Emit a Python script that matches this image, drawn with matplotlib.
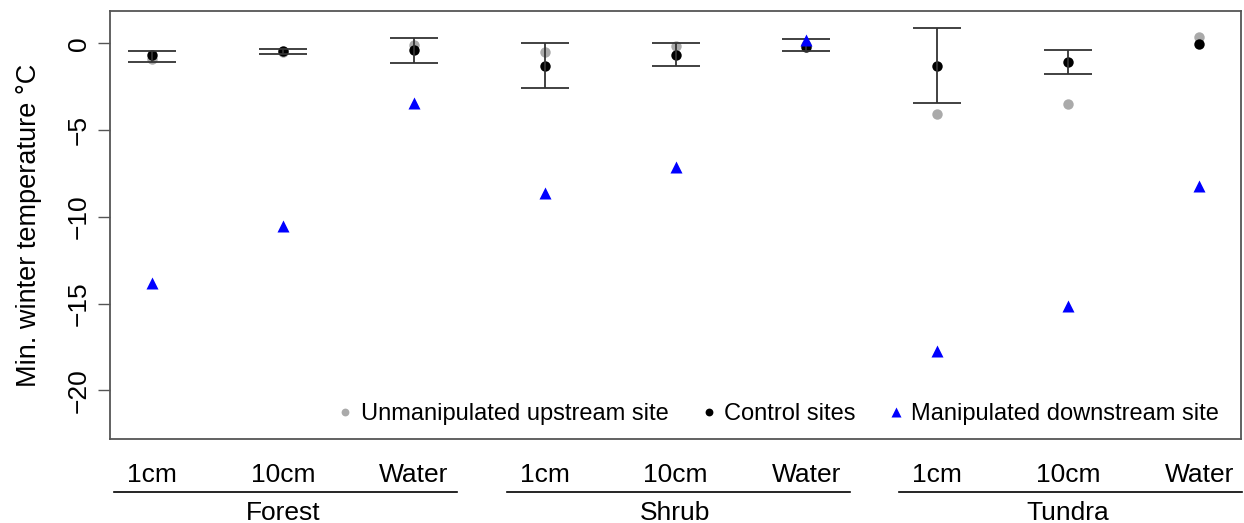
import numpy as np
import matplotlib
matplotlib.use("Agg")
import matplotlib.pyplot as plt

plt.rcParams["font.family"] = ["Liberation Sans", "DejaVu Sans"]

# ---- data ----
groups = ["Forest", "Shrub", "Tundra"]
depths = ["1cm", "10cm", "Water"]

upstream = [-0.87, -0.52, -0.10, -0.52, -0.14, -0.10, -4.04, -3.50, 0.38]
control = [-0.68, -0.43, -0.39, -1.29, -0.64, -0.20, -1.29, -1.06, -0.04]
control_lo = [-1.06, -0.58, -1.15, -2.56, -1.29, -0.44, -3.46, -1.77, np.nan]
control_hi = [-0.43, -0.33, 0.32, 0.00, 0.00, 0.25, 0.87, -0.39, np.nan]
manipulated = [-13.83, -10.54, -3.44, -8.64, -7.14, 0.20, -17.70, -15.16, -8.23]

x = np.arange(1, len(control) + 1)
ctrl = np.array(control)
lo = np.array(control_lo)
hi = np.array(control_hi)

fig = plt.figure(figsize=(12.44, 5.23), dpi=100)
ax = fig.add_axes([110 / 1244, 84 / 523, 1131 / 1244, 428 / 523])

ax.plot(x, upstream, "o", color="#aaaaaa", ms=7.5, mec="none", zorder=2,
        label="Unmanipulated upstream site")
ax.plot(x, control, "o", color="black", ms=7.5, mec="none", zorder=3,
        label="Control sites")

# error bars on control sites
ok = ~np.isnan(lo)
ax.errorbar(x[ok], ctrl[ok], yerr=[ctrl[ok] - lo[ok], hi[ok] - ctrl[ok]],
            fmt="none", ecolor="#333333", elinewidth=1.3, capsize=17.5,
            capthick=1.3, zorder=4)

ax.plot(x, manipulated, "^", color="#0000ff", ms=9, mec="none", zorder=5,
        label="Manipulated downstream site")

ax.set_xlim(0.68, 9.32)
ax.set_ylim(-22.8, 1.87)

for s in ax.spines.values():
    s.set_color("#555555")
    s.set_linewidth(1.3)

ax.set_yticks([0, -5, -10, -15, -20])
ax.set_yticklabels(["0", "\u22125", "\u221210", "\u221215", "\u221220"],
                   rotation=90, va="center", fontsize=19)
ax.tick_params(axis="y", length=9, width=1.0, color="#555555", pad=5)
ax.set_ylabel("Min. winter temperature \u00b0C", fontsize=19.5, labelpad=18)

# category labels, group lines and group names under the axis
ax.set_xticks(x)
ax.set_xticklabels(depths * len(groups), fontsize=19)
ax.tick_params(axis="x", length=0, pad=17)
trans = ax.get_xaxis_transform()
for i, g in enumerate(groups):
    first, last = 3 * i + 1, 3 * i + 3
    ax.plot([first - 0.29, last + 0.33], [-0.124, -0.124], color="black",
            lw=1.2, transform=trans, clip_on=False)
    ax.text((first + last) / 2, -0.172, g, transform=trans, ha="center",
            va="center", fontsize=19)

ax.legend(loc="lower right", bbox_to_anchor=(0.993, 0.0), ncol=3,
          frameon=False, fontsize=17, markerscale=0.75, handlelength=0.8,
          handletextpad=0.25, columnspacing=1.3, borderaxespad=0.2)

fig.savefig("out.png", dpi=100)
